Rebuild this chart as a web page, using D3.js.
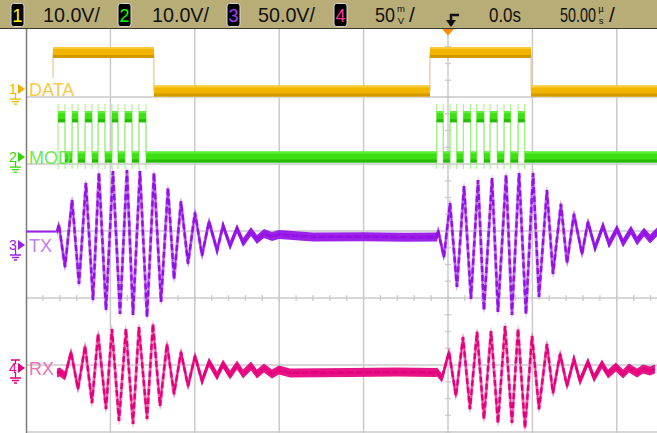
<!DOCTYPE html>
<html><head><meta charset="utf-8">
<script src="https://cdn.jsdelivr.net/npm/d3@7"></script>
<style>html,body{margin:0;padding:0;background:#fff;overflow:hidden}svg{display:block}</style>
</head><body><svg id="c" width="657" height="433"></svg>
<script>
// ---------------- DATA (time in µs, values in V or mV) ----------------
const channelNums   = ["1", "2", "3", "4"];
const channelNames  = ["DATA", "MOD", "TX", "RX"];
const channelScales = ["10.0V/", "10.0V/", "50.0V/", "50"];
const voltsPerDiv   = [10, 10, 50, 50];          // ch4 in mV/div
const triggerTime   = "0.0s";
const timePerDiv    = "50.00";

// CH1 DATA (step series, V)
const dataT = [-234.0, -234.0, -174.2, -10.7, 49.2, 124.4];
const dataV = [1.6, 5.45, -0.3, 5.45, -0.3, -0.3];

// CH2 MOD (step series, V)
const modT = [-231.0, -226.9, -222.7, -219.2, -215.0, -210.9, -207.3, -203.2, -199.1, -195.5, -191.4, -187.2, -183.1, -178.9,
              -6.7, -2.8, 1.2, 5.2, 9.1, 13.4, 17.0, 21.3, 24.9, 29.2, 33.2, 37.1, 41.5, 45.4, 124.4];
const modV = [6.0, 0, 6.0, 0, 6.0, 0, 6.0, 0, 6.0, 0, 6.0, 0, 6.0, 0,
              6.0, 0, 6.0, 0, 6.0, 0, 6.0, 0, 6.0, 0, 6.0, 0, 6.0, 0, 0];

// CH3 TX (V) - pre-trigger trace and extrema
const txPreT = [-250, -231.6];
const txPreV = [10, 10];
const txT = [-231.6, -230.5, -226.9, -222.7, -218.6, -214.5, -210.3, -206.8, -202.6, -198.5, -194.3, -190.2, -186.6, -182.5,
             -178.3, -174.2, -170.0, -165.9, -162.3, -158.2, -154.0, -149.9, -145.7, -141.6, -136.8, -133.3, -129.1, -125.0,
             -121.4, -116.7, -113.2, -109.0, -104.3, -100.1, -80, -50, -25,
             -6.5, -5.9, -2.4, 1.2, 5.3, 9.5, 13.6, 17.8, 21.3, 26.1, 29.6, 34.4, 37.9, 42.1, 46.2, 50.4, 53.9, 58.6, 62.2,
             66.9, 70.5, 74.6, 79.4, 82.9, 87.1, 91.8, 95.4, 100.1, 103.7, 108.4, 112.0, 116.1, 119.7, 123.8];
const txV = [10, 15, -16.4, 33.6, -29.1, 46.3, -41.0, 53.7, -48.5, 55.2, -51.5, 56, -52.2, 55.2,
             -53.7, 53.7, -42.5, 42.5, -25.4, 32.5, -13.8, 24.2, -7.8, 17.5, -4.1, 14.5, -0.4, 12.3,
             1.9, 10.1, 4.1, 8.6, 6.3, 7.8, 6.0, 6.2, 5.8,
             6.0, 11.2, -9.0, 31.3, -31.3, 44.0, -40.3, 48.5, -48.5, 50.0, -50.0, 52.2, -52.2, 53.7, -51.5, 53.7, -38.8,
             41.0, -21.6, 30.6, -13.4, 23.1, -6.7, 17.2, -2.2, 14.2, 0.7, 11.9, 1.5, 11.2, 3.0, 9.7, 4.5, 9.7];

// CH4 RX (mV)
const rxT = [-231.6, -229.9, -226.9, -223.3, -219.2, -215.0, -210.9, -207.3, -202.6, -199.1, -194.9, -190.8, -186.6, -183.1,
             -178.3, -174.8, -170.6, -166.5, -162.3, -158.2, -154.0, -149.9, -145.7, -141.6, -136.8, -133.3, -129.1, -125.0,
             -121.4, -116.7, -113.2, -109.0, -104.3, -100.1, -93.6, -58.1, -30, -7.1,
             -6.5, -3.6, 0.6, 4.7, 8.9, 13.0, 17.2, 21.3, 25.5, 29.6, 33.8, 37.9, 41.5, 45.6, 49.8, 53.9, 58.6, 62.2,
             66.4, 70.5, 74.6, 78.2, 82.9, 86.5, 91.2, 94.8, 99.5, 103.7, 107.2, 112.0, 115.5, 119.7, 122.6];
const rxV = [-3.7, -3.0, -6.0, 11.9, -15.7, 16.4, -26.1, 25.4, -30.6, 29.1, -39.5, 29.1, -41.8, 30.6,
             -38.0, 32.8, -28.3, 17.9, -19.4, 11.9, -13.4, 9.0, -9.7, 4.5, -6.0, 3.0, -5.2, 2.2,
             -4.5, 1.5, -4.5, 0, -4.5, -1.5, -3.7, -3.4, -3.0, -3.4,
             -3.0, -7.5, 11.9, -20.9, 23.1, -30.6, 26.9, -38.0, 27.6, -41.0, 31.3, -41.0, 29.1, -44.8, 23.9, -30.6,
             17.9, -18.7, 10.4, -13.4, 6.7, -9.7, 4.5, -7.5, 3.0, -4.5, 0.7, -4.5, 0, -3.7, -0.7, -2.2, -0.7];

// ---------------- DRAWING ----------------
const svg = d3.select("#c");
const font = "'Liberation Sans', Arial, sans-serif";

const x = d3.scaleLinear().domain([-250, 250]).range([26, 870]);
const yDiv = d3.scaleLinear().domain([-4, 4]).range([566, 30]);
const groundDiv = [3.119, 2.104, 0.791, -1.045];
const yCh = voltsPerDiv.map((vd, i) =>
  d3.scaleLinear().domain([(-4 - groundDiv[i]) * vd, (4 - groundDiv[i]) * vd]).range([566, 30]));

svg.append("rect").attr("width", 657).attr("height", 433).attr("fill", "#fff");

svg.append("clipPath").attr("id", "plot").append("rect")
  .attr("x", 26).attr("y", 29).attr("width", 631).attr("height", 404);

// grid
const grid = svg.append("g").attr("clip-path", "url(#plot)");
const gridCol = "#cacaca";
d3.range(-200, 251, 50).forEach(t => {
  grid.append("line").attr("x1", x(t)).attr("x2", x(t)).attr("y1", 29).attr("y2", 433)
    .attr("stroke", gridCol).attr("stroke-width", 1.5);
});
d3.range(-3, 4, 1).forEach(d => {
  grid.append("line").attr("x1", 26).attr("x2", 657).attr("y1", yDiv(d)).attr("y2", yDiv(d))
    .attr("stroke", gridCol).attr("stroke-width", 1.5);
});
d3.range(-250, 251, 10).forEach(t => {
  grid.append("line").attr("x1", x(t)).attr("x2", x(t)).attr("y1", yDiv(0) - 3).attr("y2", yDiv(0) + 3)
    .attr("stroke", gridCol).attr("stroke-width", 1.3);
});
d3.range(-4, 4.01, 0.25).forEach(d => {
  grid.append("line").attr("x1", x(0) - 3).attr("x2", x(0) + 3).attr("y1", yDiv(d)).attr("y2", yDiv(d))
    .attr("stroke", gridCol).attr("stroke-width", 1.3);
});
svg.append("line").attr("x1", 26.5).attr("x2", 26.5).attr("y1", 29).attr("y2", 433)
  .attr("stroke", "#7a7a7a").attr("stroke-width", 1.5);

const traces = svg.append("g").attr("clip-path", "url(#plot)");
const line = d3.line();

function digital(T, V, sc, c) {
  const pts = T.map((t, i) => [x(t), sc(V[i])]);
  const stepLine = d3.line().curve(d3.curveStepAfter);
  const band = (a, b) => d3.area().curve(d3.curveStepAfter).x(d => d[0]).y0(d => d[1] + a).y1(d => d[1] + b);
  traces.append("path").attr("d", stepLine(pts)).attr("fill", "none").attr("stroke", c.edge).attr("stroke-width", 1);
  traces.append("path").attr("d", band(5.5, -5.5)(pts)).attr("fill", c.band);
  traces.append("path").attr("d", band(-5.5, -3.5)(pts)).attr("fill", c.light);
  traces.append("path").attr("d", band(2.5, 5.5)(pts)).attr("fill", c.dark);
}
function analog(T, V, sc, c, noise) {
  const pts = T.map((t, i) => [x(t), sc(V[i])]);
  const area = d3.area().x(d => d[0]).y0(d => d[1] + noise).y1(d => d[1] - noise);
  traces.append("path").attr("d", line(pts)).attr("fill", "none").attr("stroke", c.light).attr("stroke-width", 3.2);
  traces.append("path").attr("d", area(pts)).attr("fill", c.dark).attr("opacity", 0.92);
  traces.append("path").attr("d", line(pts)).attr("fill", "none").attr("stroke", c.dark)
    .attr("stroke-width", 2.4).attr("stroke-dasharray", "6 3");
}

// CH1 DATA
digital(dataT, dataV, yCh[0], {band: "#f3b600", light: "#f9cc3a", dark: "#d39a00", edge: "#dcbc7c"});

// CH2 MOD with faint edge overshoot lines
const modEdgeG = traces.append("g");
modT.forEach((t, i) => {
  if (i === modT.length - 1) return;
  if (i === 0 || modV[i] !== modV[i - 1]) {
    modEdgeG.append("line").attr("x1", x(t)).attr("x2", x(t))
      .attr("y1", yCh[1](6.0) - 13).attr("y2", yCh[1](0) + 12)
      .attr("stroke", "#9cf080").attr("stroke-width", 1);
  }
});
digital(modT, modV, yCh[1], {band: "#3ee014", light: "#5ff03a", dark: "#27b80a", edge: "#9cf080"});

// CH3 TX
traces.append("path").attr("d", line(txPreT.map((t, i) => [x(t), yCh[2](txPreV[i])])))
  .attr("fill", "none").attr("stroke", "#9a20e8").attr("stroke-width", 2);
analog(txT, txV, yCh[2], {light: "#c98cf3", dark: "#9410e6"}, 4.5);

// CH4 RX
analog(rxT, rxV, yCh[3], {light: "#f48cc4", dark: "#e4007c"}, 4.5);

// ---------------- left markers & labels ----------------
const chColors = ["#f2b400", "#33d400", "#9a20e8", "#e4007c"];
const lblColors = ["#f8c94a", "#6fe650", "#c27ef0", "#f271b5"];
channelNames.forEach((nm, i) => {
  const gy = yCh[i](0);
  const g = svg.append("g");
  g.append("text").attr("x", 9).attr("y", gy + 5).text(channelNums[i])
    .attr("font-family", font).attr("font-size", 14).attr("fill", chColors[i]);
  g.append("path").attr("d", `M18,${gy - 5}L25,${gy}L18,${gy + 5}Z`).attr("fill", chColors[i]);
  g.append("path").attr("d", `M15.5,${gy + 4}V${gy + 10}M10,${gy + 10}H21M12,${gy + 12.5}H19M14,${gy + 15}H17`)
    .attr("stroke", chColors[i]).attr("stroke-width", 1.3).attr("fill", "none");
  if (i === 3) g.append("path").attr("d", `M11,${gy - 8}H20M15.5,${gy - 8}V${gy - 4}`)
    .attr("stroke", chColors[i]).attr("stroke-width", 1.3);
  svg.append("text").attr("x", 29).attr("y", gy + 6.5).text(nm)
    .attr("font-family", font).attr("font-size", 18).attr("fill", lblColors[i]);
});

// ---------------- header ----------------
svg.append("rect").attr("x", 0).attr("y", 0).attr("width", 657).attr("height", 28).attr("fill", "#b8ad76");
svg.append("line").attr("x1", 0).attr("x2", 657).attr("y1", 28.5).attr("y2", 28.5).attr("stroke", "#3a3a30").attr("stroke-width", 1);

const numColors = ["#ffff00", "#00ff00", "#a040ff", "#ff3399"];
const boxX = [11, 118, 227, 334];
const txtX = [43, 152, 258, 375];
const txtLen = [57, 57, 57, 20];
// header text squeezed horizontally to a target width
function htext(xp, s, len) {
  const t = svg.append("text").attr("x", 0).attr("y", 0).text(s)
    .attr("font-family", font).attr("font-size", 20).attr("fill", "#111");
  const w = t.node().getComputedTextLength();
  t.attr("transform", `translate(${xp},21.5) scale(${Math.min(1.05, len / w)},1)`);
}
channelNums.forEach((n, i) => {
  svg.append("rect").attr("x", boxX[i]).attr("y", 3.5).attr("width", 13).attr("height", 23).attr("rx", 2.5)
    .attr("fill", "#000").attr("stroke", "#d8d8d8").attr("stroke-width", 1);
  svg.append("text").attr("x", boxX[i] + 6.5).attr("y", 21.5).attr("text-anchor", "middle").text(n)
    .attr("font-family", font).attr("font-size", 18).attr("fill", numColors[i]);
  htext(txtX[i], channelScales[i], txtLen[i]);
});
function stacked(xp, top, bot) {
  svg.append("text").attr("x", xp).attr("y", 12).text(top).attr("text-anchor", "middle")
    .attr("font-family", font).attr("font-size", 9.5).attr("fill", "#111");
  svg.append("text").attr("x", xp).attr("y", 23.5).text(bot).attr("text-anchor", "middle")
    .attr("font-family", font).attr("font-size", 9.5).attr("fill", "#111");
}
stacked(401, "m", "V");
htext(409, "/", 6);
// trigger icon
svg.append("path").attr("d", "M451,26V15H459").attr("stroke", "#111").attr("stroke-width", 2.5).attr("fill", "none");
svg.append("path").attr("d", "M446,20H456L451,27Z").attr("fill", "#111");
htext(489, triggerTime, 32);
htext(560, timePerDiv, 36);
stacked(601, "µ", "s");
htext(609, "/", 7);

// trigger position marker
svg.append("path").attr("d", `M${x(0) - 6},29H${x(0) + 6}L${x(0)},35.5Z`).attr("fill", "#ff8c00");
</script></body></html>
